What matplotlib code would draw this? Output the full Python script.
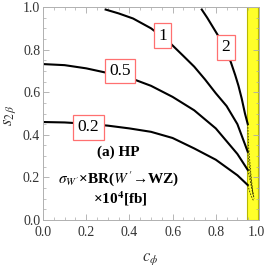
import matplotlib
matplotlib.use("Agg")
import matplotlib.pyplot as plt
from matplotlib.transforms import ScaledTranslation

plt.rcParams['font.family'] = ['Liberation Serif', 'DejaVu Serif']
plt.rcParams['mathtext.fontset'] = 'stix'

# contour lines (c_phi, s_2beta)
c_02 = [0.0, 0.1, 0.2, 0.3, 0.4, 0.5, 0.6, 0.7, 0.8, 0.9, 0.948]
s_02 = [0.460, 0.458, 0.452, 0.443, 0.430, 0.414, 0.385, 0.336, 0.283, 0.21, 0.164]

c_05 = [0.0, 0.1, 0.2, 0.3, 0.4, 0.5, 0.6, 0.7, 0.8, 0.9, 0.948]
s_05 = [0.732, 0.727, 0.712, 0.690, 0.668, 0.630, 0.578, 0.515, 0.43, 0.31, 0.235]

c_1 = [0.29, 0.35, 0.417, 0.5, 0.583, 0.65, 0.7, 0.75, 0.8, 0.85, 0.9, 0.948]
s_1 = [0.988, 0.97, 0.946, 0.900, 0.836, 0.77, 0.72, 0.66, 0.595, 0.535, 0.45, 0.32]

c_2 = [0.735, 0.76, 0.79, 0.82, 0.847, 0.87, 0.89, 0.905, 0.92, 0.935, 0.948]
s_2 = [0.988, 0.95, 0.90, 0.85, 0.80, 0.74, 0.68, 0.63, 0.57, 0.50, 0.45]

curves = [(c_02, s_02), (c_05, s_05), (c_1, s_1), (c_2, s_2)]

# dashed pieces inside the excluded band
dash_c = [[0.948, 0.958, 0.965, 0.975], [0.948, 0.958, 0.968, 0.978],
          [0.948, 0.955, 0.965, 0.975], [0.948, 0.952, 0.962, 0.972]]
dash_s = [[0.164, 0.13, 0.11, 0.09], [0.235, 0.19, 0.14, 0.10],
          [0.32, 0.25, 0.17, 0.11], [0.45, 0.34, 0.22, 0.12]]

labels = ['0.2', '0.5', '1', '2']
label_c = [0.21, 0.356, 0.553, 0.847]
label_s = [0.435, 0.70, 0.866, 0.81]

band = (0.946, 0.995)

fig = plt.figure(figsize=(2.66, 2.66), dpi=100)
ax = fig.add_axes([43/266, 46/266, 216/266, 213/266])

ax.axvspan(band[0], band[1], facecolor='#ffff2a', edgecolor='#b8b800', lw=0.8, zorder=1)

for c, s in curves:
    ax.plot(c, s, color='black', lw=1.5, zorder=2)
for c, s in zip(dash_c, dash_s):
    ax.plot(c, s, color='#333300', lw=0.6, ls=(0, (2, 1.5)), zorder=2)

for t, x, y in zip(labels, label_c, label_s):
    ax.text(x, y, t, fontsize=12.5, ha='center', va='center', zorder=3,
            bbox=dict(boxstyle='square,pad=0.25', fc='white', ec='#ff7070', lw=0.9))

ax.text(0.349, 0.32, '(a) HP', fontsize=11, fontweight='bold', ha='center', va='center')
ax.text(0.349, 0.197, r'$\sigma_{W^{\prime}}$×BR($W^{\prime}$→WZ)', fontsize=11,
        fontweight='bold', ha='center', va='center')
ax.text(0.356, 0.099, r'×10$^{\mathbf{4}}$[fb]', fontsize=11, fontweight='bold',
        ha='center', va='center')

ax.set_xlim(0, 1)
ax.set_ylim(0, 1)
ticks = [0.0, 0.2, 0.4, 0.6, 0.8, 1.0]
ax.set_xticks(ticks)
ax.set_yticks(ticks)
ax.set_xticklabels([f'{t:.1f}' for t in ticks])
ax.set_yticklabels([f'{t:.1f}' for t in ticks])
ax.set_xticks([i * 0.05 for i in range(21)], minor=True)
ax.set_yticks([i * 0.05 for i in range(21)], minor=True)
ax.tick_params(which='both', direction='in', top=True, right=True,
               color='#aaaaaa', labelcolor='#333333', labelsize=10)
ax.tick_params(which='major', length=4, width=0.6)
ax.tick_params(which='minor', length=2, width=0.5)
ax.tick_params(axis='x', pad=4)
ax.tick_params(axis='y', pad=2)
for sp in ax.spines.values():
    sp.set_color('#b0b0b0')
    sp.set_linewidth(0.7)

# keep the last x tick label inside the picture
last = ax.get_xticklabels()[-1]
last.set_transform(last.get_transform() + ScaledTranslation(-3/100, 0, fig.dpi_scale_trans))

ax.set_xlabel(r'$c_{\phi}$', fontsize=12, color='#333333')
ax.set_ylabel(r'$s_{2\,\beta}$', fontsize=12, color='#333333')
ax.xaxis.set_label_coords(0.495, -0.145)
ax.yaxis.set_label_coords(-0.115, 0.49)

fig.savefig('out.png', dpi=100)
